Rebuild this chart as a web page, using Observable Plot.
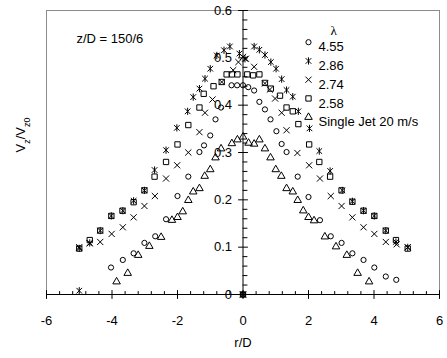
<!DOCTYPE html>
<html>
<head>
<meta charset="utf-8">
<script src="https://cdn.jsdelivr.net/npm/d3@7"></script>
<script src="https://cdn.jsdelivr.net/npm/@observablehq/plot@0.6"></script>
<style>
  html, body { margin: 0; padding: 0; background: #fff; }
  #chart { width: 447px; height: 358px; }
</style>
</head>
<body>
<div id="chart"></div>
<script>
// ---- data ----
const r455 = [-4.03,-3.67,-3.34,-3.01,-2.68,-2.35,-2.0,-1.67,-1.33,-1.19,-1.0,-0.84,-0.67,-0.35,-0.18,0,0.16,0.34,0.5,0.67,0.84,1.02,1.18,1.33,1.67,2.0,2.35,2.68,3.01,3.34,3.68,4.01,4.36,4.68,0];
const v455 = [0.057,0.073,0.087,0.109,0.123,0.159,0.208,0.249,0.301,0.315,0.336,0.37,0.395,0.442,0.442,0.442,0.438,0.431,0.407,0.391,0.37,0.345,0.318,0.301,0.249,0.206,0.157,0.123,0.109,0.087,0.073,0.057,0.038,0.031,0];

const r286 = [-5.0,-4.68,-4.36,-4.02,-3.67,-3.34,-3.01,-2.70,-2.35,-2.02,-1.69,-1.52,-1.33,-1.16,-1.0,-0.8,-0.58,-0.4,-0.11,0.06,0.34,0.5,0.67,0.85,1.01,1.18,1.33,1.52,1.69,2.03,2.33,2.66,3.03,3.34,3.68,4.01,4.36,4.67,5.03,-5.0,0];
const v286 = [0.0975,0.109,0.135,0.166,0.177,0.198,0.22,0.263,0.305,0.352,0.387,0.417,0.435,0.456,0.477,0.505,0.516,0.524,0.509,0.498,0.524,0.517,0.506,0.491,0.477,0.455,0.432,0.418,0.387,0.351,0.303,0.261,0.22,0.197,0.177,0.166,0.135,0.111,0.0995,0.008,0];

const r274 = [-5.0,-4.68,-4.36,-4.01,-3.67,-3.34,-3.01,-2.69,-2.35,-2.01,-1.67,-1.33,-1.16,-0.93,-0.65,-0.3,-0.14,0,0.09,0.34,0.67,0.82,0.98,1.18,1.33,1.66,2.02,2.35,2.68,3.01,3.34,3.68,4.01,4.36,4.69,5.03,0];
const v274 = [0.10,0.108,0.111,0.128,0.142,0.163,0.187,0.208,0.245,0.273,0.30,0.343,0.384,0.412,0.449,0.474,0.491,0.502,0.498,0.481,0.446,0.433,0.414,0.384,0.347,0.299,0.273,0.245,0.208,0.187,0.163,0.142,0.128,0.111,0.106,0.10,0];

const r258 = [-5.0,-4.68,-4.36,-4.02,-3.68,-3.34,-3.01,-2.70,-2.35,-2.0,-1.67,-1.33,-1.2,-0.9,-0.65,-0.5,-0.34,-0.17,0.13,0.31,0.5,0.67,0.85,1.13,1.33,1.52,1.69,2.02,2.33,2.66,3.01,3.34,3.68,4.01,4.36,4.67,5.03,0];
const v258 = [0.097,0.115,0.135,0.166,0.177,0.195,0.22,0.249,0.28,0.317,0.358,0.395,0.424,0.44,0.449,0.465,0.465,0.465,0.465,0.463,0.465,0.447,0.435,0.42,0.395,0.387,0.36,0.317,0.28,0.249,0.22,0.196,0.177,0.166,0.135,0.115,0.097,0];

const rJet = [-3.86,-3.52,-3.2,-2.86,-2.5,-2.17,-2.0,-1.84,-1.67,-1.52,-1.33,-1.17,-1.0,-0.84,-0.67,-0.34,-0.17,0,0.17,0.34,0.5,0.67,0.84,1.0,1.17,1.33,1.52,1.67,1.84,2.0,2.17,2.5,2.84,3.17,3.5,3.85];
const vJet = [0.027,0.045,0.083,0.102,0.121,0.157,0.163,0.175,0.199,0.217,0.224,0.25,0.264,0.289,0.308,0.319,0.327,0.333,0.32,0.318,0.327,0.308,0.289,0.264,0.25,0.224,0.217,0.199,0.177,0.163,0.156,0.122,0.101,0.083,0.045,0.027];

const seriesNames = ["4.55", "2.86", "2.74", "2.58", "Single Jet 20 m/s"];
const xTickLabels = ["-6", "-4", "-2", "0", "2", "4", "6"];
const yTickLabels = ["0", "0.1", "0.2", "0.3", "0.4", "0.5", "0.6"];
const annotation = "z/D = 150/6";

// ---- build ----
const asteriskSym = {
  draw(ctx, size) {
    const r = Math.sqrt(size / Math.PI);
    const a = r * 0.78;
    ctx.moveTo(-a, -a); ctx.lineTo(a, a);
    ctx.moveTo(-a, a); ctx.lineTo(a, -a);
    ctx.moveTo(0, -r); ctx.lineTo(0, r);
  }
};
const lineShape = { draw(ctx, l) { ctx.moveTo(0, 0); ctx.lineTo(0, -l); } };

const toRows = (rs, vs) => rs.map((r, i) => ({r, v: vs[i]}));
const series = [
  {name: seriesNames[0], rows: toRows(r455, v455), symbol: "circle", r: 2.6},
  {name: seriesNames[1], rows: toRows(r286, v286), symbol: asteriskSym, r: 3.6},
  {name: seriesNames[2], rows: toRows(r274, v274), symbol: "times", r: 2.9},
  {name: seriesNames[3], rows: toRows(r258, v258), symbol: "square", r: 3.0},
  {name: seriesNames[4], rows: toRows(rJet, vJet), symbol: "triangle", r: 2.8}
];

const xMajor = xTickLabels.map(Number);
const yMajor = yTickLabels.map(Number);
const xMinor = d3.range(-6, 6.001, 0.4).map(d => +d.toFixed(2)).filter(d => !xMajor.some(m => Math.abs(m - d) < 1e-6));
const yMinor = d3.range(0, 0.6001, 0.02).map(d => +d.toFixed(3)).filter(d => !yMajor.some(m => Math.abs(m - d) < 1e-6));

const font = "'Liberation Sans', Arial, sans-serif";

const marks = [
  Plot.frame({stroke: "#8c8c8c"}),
  Plot.ruleY([0], {stroke: "black"}),
  Plot.ruleX([0], {stroke: "black"}),
  // x ticks
  Plot.vector(xMajor, {x: d => d, y: 0, length: 8, anchor: "middle", rotate: 0, shape: lineShape, stroke: "black", strokeWidth: 1}),
  Plot.vector(xMinor, {x: d => d, y: 0, length: 3, anchor: "start", rotate: 0, shape: lineShape, stroke: "black", strokeWidth: 1}),
  // y ticks on centre axis
  Plot.vector(yMajor, {x: 0, y: d => d, length: 9, anchor: "middle", rotate: 90, shape: lineShape, stroke: "black", strokeWidth: 1}),
  Plot.vector(yMinor, {x: 0, y: d => d, length: 4, anchor: "start", rotate: 90, shape: lineShape, stroke: "black", strokeWidth: 1}),
  // tick labels
  Plot.text(xTickLabels, {x: d => +d, y: 0, text: d => d, dy: 26, fontSize: 13, fill: "black"}),
  Plot.text(yTickLabels, {x: 0, y: d => +d, text: d => d, dx: -11, textAnchor: "end", fontSize: 13, fill: "black"}),
  // axis titles
  Plot.text(["r/D"], {frameAnchor: "bottom", dy: 52, fontSize: 13, fill: "black"}),
  Plot.text(["Vz/Vz0"], {frameAnchor: "left", dx: -26, rotate: -90, fontSize: 13, fill: "black"}),
  Plot.text([annotation], {frameAnchor: "top-left", dx: 30, dy: 23, textAnchor: "start", fontSize: 13, fill: "black"}),
  Plot.text(["λ"], {frameAnchor: "top-left", dx: 284, dy: 15, fontSize: 13, fill: "black", fontFamily: "'Liberation Serif', serif"})
];

series.forEach((s, i) => {
  marks.push(Plot.dot(s.rows, {x: "r", y: "v", symbol: () => s.symbol, r: s.r, stroke: "black", fill: "none", strokeWidth: 1}));
  marks.push(Plot.dot([s.name], {frameAnchor: "top-left", dx: 262, dy: 31.7 + i * 18.75, symbol: () => s.symbol, r: s.r, stroke: "black", fill: "none", strokeWidth: 1}));
  marks.push(Plot.text([s.name], {frameAnchor: "top-left", dx: 272, dy: 31.7 + i * 18.75, text: d => d, textAnchor: "start", fontSize: 13, fill: "black"}));
});

const chart = Plot.plot({
  width: 447,
  height: 358,
  marginLeft: 46,
  marginRight: 8,
  marginTop: 10,
  marginBottom: 64,
  x: {domain: [-6, 6], axis: null},
  y: {domain: [0, 0.6], axis: null},
  style: {fontFamily: font, fontSize: "13px", background: "white", color: "black", overflow: "visible"},
  marks
});

// subscripts for the y-axis title
chart.querySelectorAll("text").forEach(t => {
  if (t.textContent === "Vz/Vz0") {
    t.textContent = "";
    const ns = "http://www.w3.org/2000/svg";
    const parts = [["V", false], ["z", true], ["/V", false], ["z0", true]];
    parts.forEach(([s, sub]) => {
      const ts = document.createElementNS(ns, "tspan");
      ts.textContent = s;
      if (sub) { ts.setAttribute("font-size", "9"); ts.setAttribute("baseline-shift", "sub"); }
      t.appendChild(ts);
    });
  }
});

document.getElementById("chart").appendChild(chart);
</script>
</body>
</html>
